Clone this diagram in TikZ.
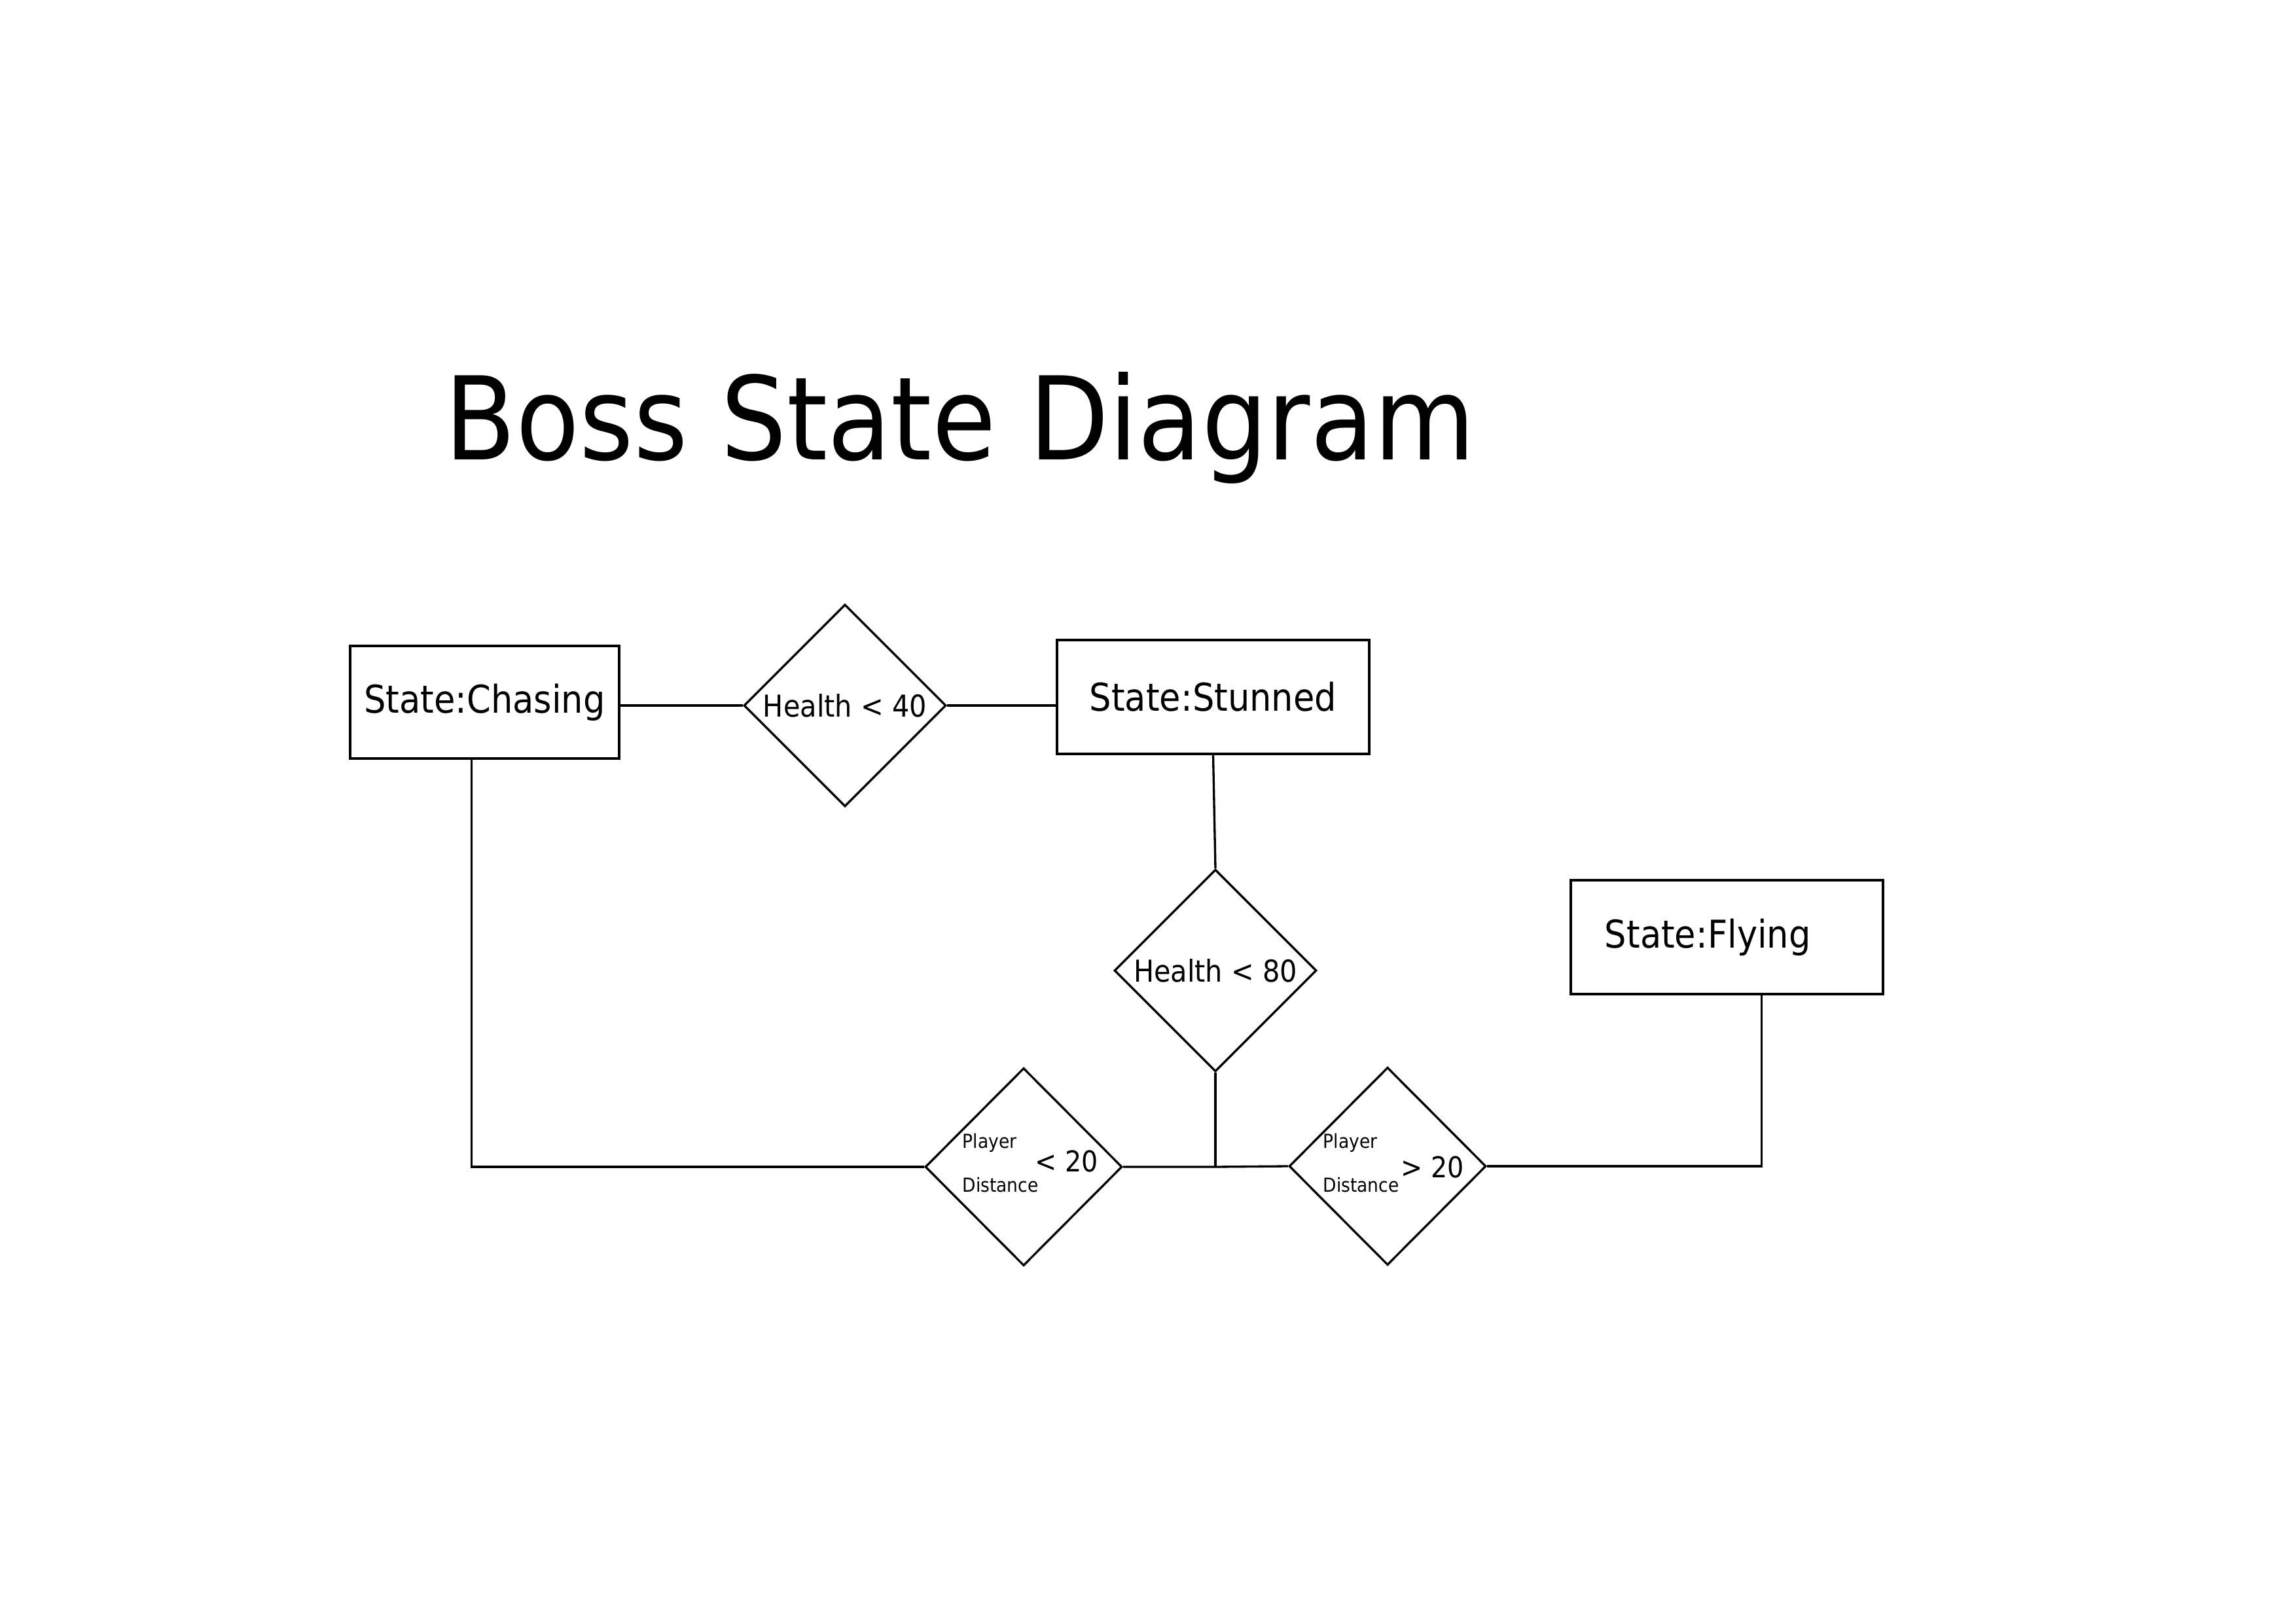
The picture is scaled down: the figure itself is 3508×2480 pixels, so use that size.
\documentclass[tikz,border=0pt]{standalone}
\usepackage{fontspec}
\setmainfont{DejaVu Sans}[FakeStretch=0.9]
\usetikzlibrary{shapes.geometric,calc}
\begin{document}
\begin{tikzpicture}[x=0.2409pt,y=-0.2409pt,line width=0.8pt,
  statebox/.style={draw,rectangle,inner sep=0pt,font=\fontsize{14.1}{17}\selectfont},
  cond/.style={draw,diamond,aspect=1,inner sep=0pt,font=\fontsize{11.1}{13}\selectfont},
  smalltxt/.style={inner sep=0pt,anchor=west,font=\fontsize{7.1}{8.5}\selectfont},
  cmptxt/.style={inner sep=0pt,font=\fontsize{10.6}{12.5}\selectfont}]
\useasboundingbox (0,0) rectangle (3508,2480);
\node[inner sep=0pt,anchor=base west,font=\fontsize{42.5}{50}\selectfont] (title) at (678,703) {Boss State Diagram};
\node[statebox,minimum width=99pt,minimum height=41.4pt] (chasing) at (740.5,1073) {State:Chasing};
\node[statebox,minimum width=114.9pt,minimum height=41.9pt] (stunned) at (1853.5,1065) {State:Stunned};
\node[statebox,minimum height=41.9pt,inner xsep=12.5pt,text width=89.9pt,align=left] (flying) at (2638.5,1432) {State:Flying};
\node[cond,minimum width=74.4pt,minimum height=74.4pt] (h40) at (1291,1078) {Health < 40};
\node[cond,minimum width=74.4pt,minimum height=74.4pt] (h80) at (1857,1483) {Health < 80};
\node[cond,minimum width=72.5pt,minimum height=72.8pt] (pl) at (1564,1783) {};
\node[cond,minimum width=72.5pt,minimum height=72.8pt] (pg) at (2120,1782) {};
\node[smalltxt] (plp) at (1469,1746) {Player};
\node[smalltxt] (pld) at (1469,1811) {Distance};
\node[cmptxt] (plc) at (1630,1774) {< 20};
\node[smalltxt] (pgp) at (2020,1746) {Player};
\node[smalltxt] (pgd) at (2020,1811) {Distance};
\node[cmptxt] (pgc) at (2189,1783) {> 20};
\coordinate (junc) at (h80.south |- pl.east);
\draw (chasing.east |- h40.west) -- (h40.west);
\draw (h40.east) -- (h40.east -| stunned.west);
\draw (stunned.south) -- (h80.north);
\draw (h80.south) -- (junc);
\draw (pl.east) -- (junc) -- (pg.west);
\draw ($(chasing.south)+(-20,0)$) |- (pl.west);
\draw (pg.east) -| ($(flying.south)+(53,0)$);
\end{tikzpicture}
\end{document}
